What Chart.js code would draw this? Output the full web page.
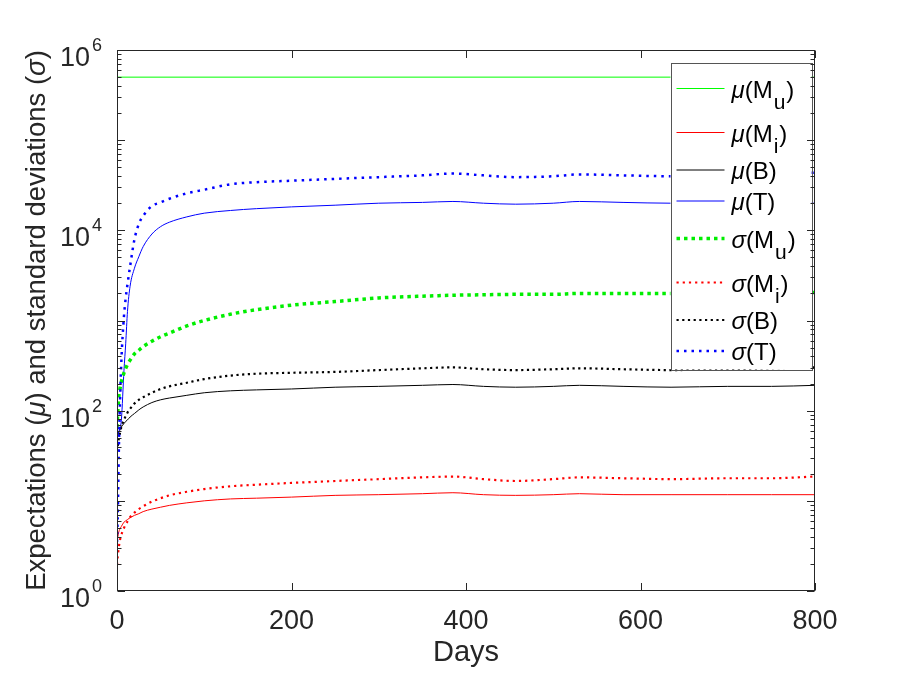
<!DOCTYPE html>
<html>
<head>
<meta charset="utf-8">
<title>Expectations and standard deviations</title>
<script src="https://cdn.jsdelivr.net/npm/chart.js@4.4.0/dist/chart.umd.min.js"></script>
<style>
    html, body { margin: 0; padding: 0; background: #fff; }
    #wrap { width: 900px; height: 675px; }
</style>
</head>
<body>
<div id="wrap"><canvas id="chart" width="900" height="675"></canvas></div>
<script>
// Data
const days = [0, 1, 2, 3, 5, 8, 10, 12, 15, 20, 25, 30, 40, 50, 60, 80, 100, 130, 160, 200,
    250, 300, 350, 385, 420, 457, 500, 530, 580, 635, 700, 750, 800];

const muMuDays = [0, 800];
const muMu = [500000, 500000];

const muMi = [3.5, 4.0, 4.5, 4.8, 5.2, 5.8, 6.0, 6.2, 6.5, 6.9, 7.2, 7.6, 8.1, 8.5, 8.9, 9.5, 10.0, 10.5, 10.7, 11.0,
    11.5, 11.7, 12.0, 12.3, 11.7, 11.5, 11.7, 12.0, 11.7, 11.7, 11.7, 11.7, 11.7];

const muB = [50, 54, 58, 60, 66, 72, 76, 79, 85, 93, 102, 110, 123, 132, 138, 148, 158, 166, 170, 174,
    182, 186, 191, 195, 186, 182, 186, 191, 186, 182, 186, 186, 191];

const muT = [50, 52, 58, 63, 79, 280, 560, 1260, 2400, 3800, 5100, 6600, 9100, 11000, 12300, 14100, 15500, 16600, 17400, 18200,
    19000, 20000, 20400, 20900, 20000, 19500, 20000, 20900, 20400, 20000, 20000, 20000, 20000];

const sigMu = [65, 100, 141, 166, 209, 263, 295, 324, 363, 427, 468, 513, 589, 661, 724, 871, 1000, 1175, 1318, 1479,
    1622, 1778, 1862, 1905, 1930, 1950, 1950, 1995, 1995, 1995, 1995, 2020, 2040];

const sigMi = [1.95, 2.5, 3.0, 3.5, 4.2, 5.0, 5.5, 5.9, 6.6, 7.4, 8.1, 8.7, 9.8, 10.7, 11.5, 12.6, 13.5, 14.5, 15.1, 15.8,
    16.6, 17.4, 18.2, 18.6, 17.4, 16.6, 17.4, 18.2, 17.8, 17.4, 17.8, 17.8, 18.6];

const sigB = [35, 42, 48, 54, 66, 79, 87, 95, 105, 120, 132, 141, 158, 174, 186, 204, 224, 245, 257, 263,
    269, 282, 295, 302, 288, 282, 288, 295, 288, 282, 288, 295, 302];

const sigT = [3.5, 8, 32, 89, 355, 1120, 1780, 2510, 3980, 7940, 11750, 14450, 18600, 20400, 22400, 25700, 28200, 32400, 34200, 35500,
    37200, 38900, 40700, 42700, 40700, 38900, 39800, 41700, 40700, 39800, 40700, 41700, 43700];

const seriesLabels = ['μ(M_u)', 'μ(M_i)', 'μ(B)', 'μ(T)', 'σ(M_u)', 'σ(M_i)', 'σ(B)', 'σ(T)'];

const xTicks = [0, 200, 400, 600, 800];
const yTickExponents = [0, 2, 4, 6];

const FONT = "'Liberation Sans', Arial, Helvetica, sans-serif";
const AXIS_COLOR = '#262626';

function pairs(xs, ys) {
    return xs.map(function(x, i) { return { x: x, y: ys[i] }; });
}

// line styles, in legend order
const styles = [
    { color: '#00ff00', width: 1, dash: [] },
    { color: '#ff0000', width: 1, dash: [] },
    { color: '#000000', width: 1, dash: [] },
    { color: '#0000ff', width: 1, dash: [] },
    { color: '#00ee00', width: 3.5, dash: [3.5, 4] },
    { color: '#ff0000', width: 2.2, dash: [2.2, 4] },
    { color: '#000000', width: 2.2, dash: [2.2, 3.5] },
    { color: '#0000ff', width: 2.5, dash: [2.5, 5] }
];

const seriesData = [
    pairs(muMuDays, muMu),
    pairs(days, muMi),
    pairs(days, muB),
    pairs(days, muT),
    pairs(days, sigMu),
    pairs(days, sigMi),
    pairs(days, sigB),
    pairs(days, sigT)
];

const datasets = seriesData.map(function(d, i) {
    return {
        label: seriesLabels[i],
        data: d,
        borderColor: styles[i].color,
        borderWidth: styles[i].width,
        borderDash: styles[i].dash,
        pointRadius: 0,
        fill: false,
        cubicInterpolationMode: 'monotone',
        order: seriesLabels.length - i
    };
});

// greek letters in italic, like the tex interpreter
function fontFor(ch, size) {
    return (/[μσ]/.test(ch) ? 'italic ' : '') + size + 'px ' + FONT;
}

function textWidth(ctx, text, size) {
    let w = 0;
    for (const ch of text) {
        ctx.font = fontFor(ch, size);
        w += ctx.measureText(ch).width;
    }
    return w;
}

function drawRich(ctx, text, x, y, size) {
    let cx = x;
    for (const ch of text) {
        ctx.font = fontFor(ch, size);
        ctx.fillText(ch, cx, y);
        cx += ctx.measureText(ch).width;
    }
    return cx;
}

// draws label text with "_x" subscripts
function drawLabel(ctx, text, x, y) {
    const parts = text.split(/_(.)/);
    let cx = x;
    parts.forEach(function(p, i) {
        if (!p) return;
        if (i % 2 === 1) {
            ctx.font = '21px ' + FONT;
            ctx.fillText(p, cx + 1, y + 11);
            cx += ctx.measureText(p).width + 2;
        } else {
            cx = drawRich(ctx, p, cx, y, 24);
        }
    });
}

// MATLAB-like box, inward ticks, labels and legend
const matlabAxes = {
    id: 'matlabAxes',
    afterDraw: function(chart) {
        const ctx = chart.ctx;
        const a = chart.chartArea;
        const xs = chart.scales.x;
        const ys = chart.scales.y;
        const L = Math.round(a.left) + 0.5, R = Math.round(a.right) - 0.5;
        const T = Math.round(a.top) + 0.5, B = Math.round(a.bottom) - 0.5;

        ctx.save();

        // legend
        const lx = R - 144, rx = R - 3, ty = T + 12;
        const rowH = seriesLabels.map(function(s) { return s.indexOf('_') >= 0 ? 44 : 31; });
        const boxH = rowH.reduce(function(s, h) { return s + h; }, 0) + 7;
        ctx.fillStyle = '#fff';
        ctx.fillRect(lx, ty, rx - lx, boxH);
        ctx.strokeStyle = '#555';
        ctx.lineWidth = 1;
        ctx.setLineDash([]);
        ctx.strokeRect(Math.round(lx) + 0.5, Math.round(ty) + 0.5, Math.round(rx - lx), Math.round(boxH));
        let yy = ty + 4;
        seriesLabels.forEach(function(lab, i) {
            const cy = yy + rowH[i] / 2;
            ctx.beginPath();
            ctx.strokeStyle = styles[i].color;
            ctx.lineWidth = styles[i].width;
            ctx.setLineDash(styles[i].dash);
            ctx.moveTo(lx + 6, cy);
            ctx.lineTo(lx + 54, cy);
            ctx.stroke();
            ctx.setLineDash([]);
            ctx.fillStyle = '#000';
            ctx.textBaseline = 'alphabetic';
            ctx.textAlign = 'left';
            drawLabel(ctx, lab, lx + 61, cy + 9);
            yy += rowH[i];
        });

        // frame
        ctx.strokeStyle = AXIS_COLOR;
        ctx.lineWidth = 1;
        ctx.strokeRect(L, T, R - L, B - T);

        // y ticks (log, decades + minors)
        ctx.beginPath();
        for (let d = 0; d < 6; d++) {
            for (let k = 1; k <= 9; k++) {
                const py = Math.round(ys.getPixelForValue(k * Math.pow(10, d))) + 0.5;
                const len = k === 1 ? 7.5 : 4;
                ctx.moveTo(L, py); ctx.lineTo(L + len, py);
                ctx.moveTo(R, py); ctx.lineTo(R - len, py);
            }
        }
        // x ticks
        xTicks.forEach(function(t) {
            const px = Math.round(xs.getPixelForValue(t)) + 0.5;
            ctx.moveTo(px, B); ctx.lineTo(px, B - 7.5);
            ctx.moveTo(px, T); ctx.lineTo(px, T + 7.5);
        });
        ctx.stroke();

        // tick labels
        ctx.fillStyle = AXIS_COLOR;
        ctx.textBaseline = 'alphabetic';
        ctx.font = '27px ' + FONT;
        ctx.textAlign = 'center';
        xTicks.forEach(function(t) {
            ctx.fillText(String(t), xs.getPixelForValue(t), 629);
        });
        yTickExponents.forEach(function(e) {
            const py = ys.getPixelForValue(Math.pow(10, e));
            ctx.textAlign = 'right';
            ctx.font = '27px ' + FONT;
            ctx.fillText('10', a.left - 27, py + 16);
            ctx.textAlign = 'left';
            ctx.font = '18px ' + FONT;
            ctx.fillText(String(e), a.left - 25, py + 1);
        });

        // axis titles
        ctx.textAlign = 'center';
        ctx.font = '29px ' + FONT;
        ctx.fillText('Days', (a.left + a.right) / 2, 661);
        ctx.save();
        ctx.translate(37, (a.top + a.bottom) / 2);
        ctx.rotate(-Math.PI / 2);
        ctx.textBaseline = 'middle';
        ctx.textAlign = 'left';
        const yTitle = 'Expectations (μ) and standard deviations (σ)';
        drawRich(ctx, yTitle, -textWidth(ctx, yTitle, 27.5) / 2, 0, 27.5);
        ctx.restore();

        ctx.restore();
    }
};

new Chart(document.getElementById('chart'), {
    type: 'line',
    data: { datasets: datasets },
    options: {
        responsive: false,
        animation: false,
        layout: { padding: { left: 117, right: 85, top: 50, bottom: 84 } },
        scales: {
            x: { type: 'linear', min: 0, max: 800, display: false },
            y: { type: 'logarithmic', min: 1, max: 1000000, display: false }
        },
        plugins: {
            legend: { display: false },
            tooltip: { enabled: false }
        }
    },
    plugins: [matlabAxes]
});
</script>
</body>
</html>
